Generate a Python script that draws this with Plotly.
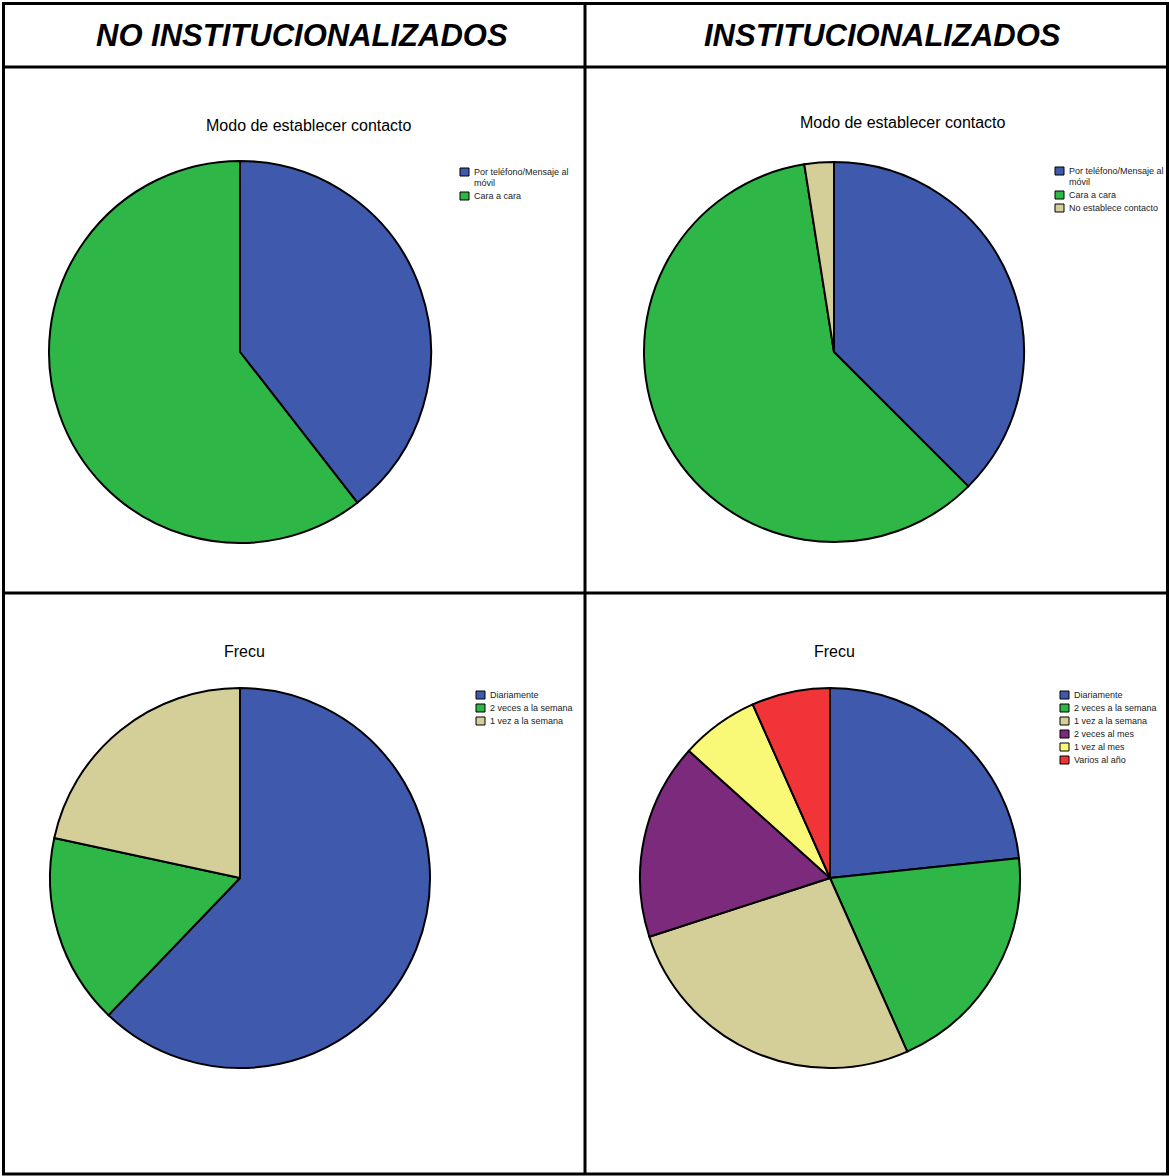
import plotly.graph_objects as go

W, H = 1169, 1176

# ---- data -------------------------------------------------------------
contacto_labels_no = ["Por teléfono/Mensaje al<br>móvil", "Cara a cara"]
contacto_values_no = [15, 23]

contacto_labels_si = ["Por teléfono/Mensaje al<br>móvil", "Cara a cara", "No establece contacto"]
contacto_values_si = [15, 24, 1]

frecu_labels_no = ["Diariamente", "2 veces a la semana", "1 vez a la semana"]
frecu_values_no = [23, 6, 8]

frecu_labels_si = ["Diariamente", "2 veces a la semana", "1 vez a la semana",
                   "2 veces al mes", "1 vez al mes", "Varios al año"]
frecu_values_si = [7, 6, 8, 5, 2, 2]

headers = ["NO INSTITUCIONALIZADOS", "INSTITUCIONALIZADOS"]
pie_titles = ["Modo de establecer contacto", "Modo de establecer contacto", "Frecu", "Frecu"]

palette = ["#3F5AAC", "#2EB747", "#D4CE98", "#7B2A7C", "#F9F877", "#F03438"]


def px(x):
    return x / W


def py(y):
    return 1 - y / H


fig = go.Figure()

# panel layout in pixels: (centre x, centre y, radius, title x, title y, legend x, legend y)
panels = [
    (contacto_labels_no, contacto_values_no, 240, 352, 191, 309, 125, 460, 172),
    (contacto_labels_si, contacto_values_si, 834, 352, 190, 903, 123, 1055, 171),
    (frecu_labels_no, frecu_values_no, 240, 878, 190, 244, 651, 476, 695),
    (frecu_labels_si, frecu_values_si, 830, 878, 190, 834, 651, 1060, 695),
]

shapes = []
annotations = []
LEG_FONT = dict(family="Liberation Sans, Arial", size=9, color="#222")

for i, (labels, values, cx, cy, r, tx, ty, lx, ly) in enumerate(panels):
    cols = palette[:len(values)]
    fig.add_trace(go.Pie(
        labels=labels, values=values, sort=False, direction="clockwise", rotation=0,
        marker=dict(colors=cols, line=dict(color="black", width=2)),
        textinfo="none", hoverinfo="label+value+percent", showlegend=False,
        domain=dict(x=[px(cx - r), px(cx + r)], y=[py(cy + r), py(cy - r)]),
    ))
    annotations.append(dict(
        text=pie_titles[i], x=px(tx), y=py(ty), xref="paper", yref="paper",
        showarrow=False, xanchor="center", yanchor="middle",
        font=dict(family="Liberation Sans, Arial", size=16, color="black"),
    ))
    # legend: swatch + label per slice, one text line at a time
    yy = ly
    for lab, col in zip(labels, cols):
        shapes.append(dict(type="rect", xref="paper", yref="paper",
                           x0=px(lx), x1=px(lx + 9), y0=py(yy + 4), y1=py(yy - 4),
                           fillcolor=col, line=dict(color="black", width=1)))
        for k, line in enumerate(lab.split("<br>")):
            annotations.append(dict(
                text=line, x=px(lx + 12), y=py(yy + k * 11), xref="paper", yref="paper",
                showarrow=False, xanchor="left", yanchor="middle", align="left",
                font=LEG_FONT,
            ))
        yy += 13 + (lab.count("<br>")) * 11

# column headers
for txt, cx in zip(headers, [302, 882]):
    annotations.append(dict(
        text=f"<b><i>{txt}</i></b>", x=px(cx), y=py(35), xref="paper", yref="paper",
        showarrow=False, xanchor="center", yanchor="middle",
        font=dict(family="Liberation Sans, Arial", size=31, color="black"),
    ))

# table grid
grid = [
    (3.5, 3, 3.5, 1174),      # left
    (1167.5, 3, 1167.5, 1174),  # right
    (2, 3.5, 1169, 3.5),      # top
    (2, 1174, 1169, 1174),    # bottom
    (2, 67, 1169, 67),        # under header
    (2, 593, 1169, 593),      # middle row
    (585, 3, 585, 1174),      # middle column
]
for x0, y0, x1, y1 in grid:
    shapes.append(dict(type="line", xref="paper", yref="paper",
                       x0=px(x0), y0=py(y0), x1=px(x1), y1=py(y1),
                       line=dict(color="black", width=3), layer="above"))

fig.update_layout(
    width=W, height=H, margin=dict(l=0, r=0, t=0, b=0),
    paper_bgcolor="white", plot_bgcolor="white",
    shapes=shapes, annotations=annotations, showlegend=False,
)

fig.write_html("out.html")
